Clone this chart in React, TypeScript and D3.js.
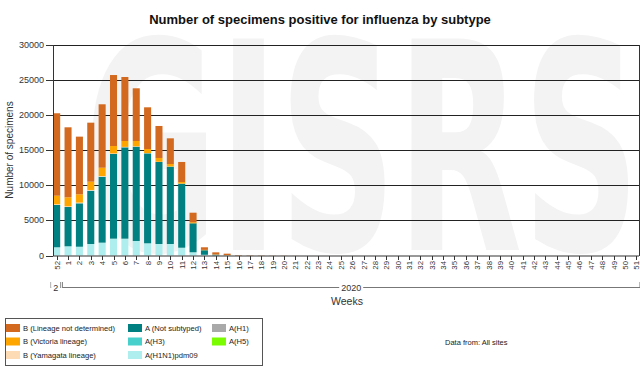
import React from "react";
import * as d3 from "d3";

// weeks shown on the x axis (week 52 of 2019, then weeks 1..51 of 2020)
const weeks = ["52", "1", "2", "3", "4", "5", "6", "7", "8", "9", "10", "11", "12", "13", "14", "15", "16", "17", "18", "19", "20", "21", "22", "23", "24", "25", "26", "27", "28", "29", "30", "31", "32", "33", "34", "35", "36", "37", "38", "39", "40", "41", "42", "43", "44", "45", "46", "47", "48", "49", "50", "51"];

const years = [
  { label: "2", first: "52", last: "52" },
  { label: "2020", first: "1", last: "51" },
];

// series values
const pdm09 = [1170, 1310, 1250, 1640, 1830, 2400, 2400, 2070, 1740, 1640, 1640, 1110, 460, 100, 20, 10, 0, 0, 0, 0, 0, 0, 0, 0, 0, 0, 0, 0, 0, 0, 0, 0, 0, 0, 0, 0, 0, 0, 0, 0, 0, 0, 0, 0, 0, 0, 0, 0, 0, 0, 0, 0];
const h3 = [0, 0, 0, 0, 0, 0, 0, 0, 0, 0, 0, 0, 0, 0, 0, 0, 0, 0, 0, 0, 0, 0, 0, 0, 0, 0, 0, 0, 0, 0, 0, 0, 0, 0, 0, 0, 0, 0, 0, 0, 0, 0, 0, 0, 0, 0, 0, 0, 0, 0, 0, 0];
const h1 = [0, 0, 0, 0, 0, 0, 0, 0, 0, 0, 0, 0, 0, 0, 0, 0, 0, 0, 0, 0, 0, 0, 0, 0, 0, 0, 0, 0, 0, 0, 0, 0, 0, 0, 0, 0, 0, 0, 0, 0, 0, 0, 0, 0, 0, 0, 0, 0, 0, 0, 0, 0];
const h5 = [0, 0, 0, 0, 0, 0, 0, 0, 0, 0, 0, 0, 0, 0, 0, 0, 0, 0, 0, 0, 0, 0, 0, 0, 0, 0, 0, 0, 0, 0, 0, 0, 0, 0, 0, 0, 0, 0, 0, 0, 0, 0, 0, 0, 0, 0, 0, 0, 0, 0, 0, 0];
const notSubtyped = [6030, 5600, 6190, 7600, 9400, 12070, 13020, 13440, 12820, 11690, 11020, 9120, 4130, 650, 100, 20, 0, 0, 0, 0, 0, 0, 0, 0, 0, 0, 0, 0, 0, 0, 0, 0, 0, 0, 0, 0, 0, 0, 0, 0, 0, 0, 0, 0, 0, 0, 0, 0, 0, 0, 0, 0];
const yamagata = [100, 100, 100, 100, 100, 80, 60, 50, 40, 30, 30, 20, 0, 0, 0, 0, 0, 0, 0, 0, 0, 0, 0, 0, 0, 0, 0, 0, 0, 0, 0, 0, 0, 0, 0, 0, 0, 0, 0, 0, 0, 0, 0, 0, 0, 0, 0, 0, 0, 0, 0, 0];
const victoria = [1220, 1280, 1180, 1180, 1180, 1050, 840, 760, 580, 540, 350, 220, 150, 50, 30, 30, 0, 0, 0, 0, 0, 0, 0, 0, 0, 0, 0, 0, 0, 0, 0, 0, 0, 0, 0, 0, 0, 0, 0, 0, 0, 0, 0, 0, 0, 0, 0, 0, 0, 0, 0, 0];
const bNotDetermined = [11750, 9980, 8220, 8410, 9040, 10120, 9120, 7510, 5940, 4560, 3660, 2860, 1360, 370, 300, 200, 60, 40, 30, 20, 20, 10, 0, 0, 0, 0, 0, 0, 0, 0, 0, 0, 0, 0, 0, 0, 0, 0, 0, 0, 0, 0, 0, 0, 0, 0, 0, 0, 0, 0, 0, 0];

const yTicks = [0, 5000, 10000, 15000, 20000, 25000, 30000];

// stacking order, bottom to top
const series = [
  { key: "pdm09", name: "A(H1N1)pdm09", color: "#AFEEEE", values: pdm09 },
  { key: "h3", name: "A(H3)", color: "#48D1CC", values: h3 },
  { key: "h1", name: "A(H1)", color: "#A9A9A9", values: h1 },
  { key: "h5", name: "A(H5)", color: "#7CFC00", values: h5 },
  { key: "ns", name: "A (Not subtyped)", color: "#008080", values: notSubtyped },
  { key: "yam", name: "B (Yamagata lineage)", color: "#FDDCB5", values: yamagata },
  { key: "vic", name: "B (Victoria lineage)", color: "#FFA500", values: victoria },
  { key: "bnd", name: "B (Lineage not determined)", color: "#D2691E", values: bNotDetermined },
];

// legend layout: columns of names
const legendColumns = [
  ["B (Lineage not determined)", "B (Victoria lineage)", "B (Yamagata lineage)"],
  ["A (Not subtyped)", "A(H3)", "A(H1N1)pdm09"],
  ["A(H1)", "A(H5)"],
];

const W = 640;
const H = 370;
const font = "'Liberation Sans', Arial, sans-serif";

export default function App() {
  const x = d3.scaleBand<string>().domain(weeks).range([51, 642]).paddingInner(0.38).paddingOuter(0.19);
  const y = d3.scaleLinear().domain([0, 30000]).range([255.5, 45]);
  const plotLeft = 53;
  const plotRight = 639;

  const rows = weeks.map((w, i) => {
    const r: any = { week: w };
    series.forEach(s => (r[s.key] = s.values[i]));
    return r;
  });
  const stacked = d3.stack().keys(series.map(s => s.key))(rows);
  const colorOf = (k: string) => series.find(s => s.key === k)!.color;
  const step = x.step();
  const outer = 51;

  return (
    <div style={{ position: "absolute", left: 0, top: 0 }}>
      <svg width={W} height={H} style={{ display: "block", background: "#fff" }} fontFamily={font}>
        {/* watermark */}
        <text x={84} y={250} fontSize={290} fontWeight="bold" fill="#f3f3f3" fontFamily="'DejaVu Sans', sans-serif" textLength={556} lengthAdjust="spacingAndGlyphs">
          GISRS
        </text>

        <text x={320} y={24} textAnchor="middle" fontSize={13} fontWeight="bold" fill="#111">
          Number of specimens positive for influenza by subtype
        </text>

        {/* grid + y axis */}
        {yTicks.map(t => (
          <g key={t}>
            {t > 0 && <line x1={plotLeft} x2={plotRight} y1={Math.round(y(t)) + 0.5} y2={Math.round(y(t)) + 0.5} stroke="#222" strokeWidth={1} />}
            <line x1={46} x2={plotLeft} y1={Math.round(y(t)) + 0.5} y2={Math.round(y(t)) + 0.5} stroke="#333" />
            <text x={44} y={y(t) + 3} textAnchor="end" fontSize={9} fill="#333">{t}</text>
          </g>
        ))}
        <line x1={plotRight + 0.5} x2={plotRight + 0.5} y1={45} y2={256} stroke="#333" />
        <text transform={`translate(13,150) rotate(-90)`} textAnchor="middle" fontSize={10} fill="#333">
          Number of specimens
        </text>

        {/* bars */}
        {stacked.map(layer => (
          <g key={layer.key} fill={colorOf(layer.key)}>
            {layer.map((d, i) => {
              const h = y(d[0]) - y(d[1]);
              if (h <= 0) return null;
              return <rect key={i} x={x(weeks[i])} y={y(d[1])} width={x.bandwidth()} height={h} />;
            })}
          </g>
        ))}

        {/* x axis */}
        <line x1={plotLeft} x2={plotRight} y1={256} y2={256} stroke="#333" />
        <line x1={plotLeft + 0.5} x2={plotLeft + 0.5} y1={45} y2={256} stroke="#333" />
        {weeks.map(w => {
          const cx = Math.round(x(w)! + x.bandwidth() / 2) + 0.5;
          return (
            <g key={w}>
              <line x1={cx} x2={cx} y1={256} y2={260} stroke="#333" />
              <text transform={`translate(${Math.min(cx + 2.7, 638.5)},261) rotate(-90)`} textAnchor="end" fontSize={7.8} fill="#333">{w}</text>
            </g>
          );
        })}

        {/* year brackets */}
        {years.map(g => {
          const i0 = weeks.indexOf(g.first);
          const i1 = weeks.indexOf(g.last);
          const x0 = outer + i0 * step;
          const x1 = outer + (i1 + 1) * step - 2;
          const cx = (x0 + x1) / 2;
          const tw = g.label.length * 5 + 4;
          return (
            <g key={g.label} stroke="#777" strokeWidth={1}>
              <line x1={x0} x2={x0} y1={282} y2={288} />
              <line x1={x1} x2={x1} y1={282} y2={288} />
              <line x1={x0} x2={x1} y1={287.5} y2={287.5} />
              <rect x={cx - tw / 2} y={282} width={tw} height={10} fill="#fff" stroke="none" />
              <text x={cx} y={290.5} textAnchor="middle" fontSize={9} fill="#333" stroke="none">{g.label}</text>
            </g>
          );
        })}
        <text x={347} y={305} textAnchor="middle" fontSize={10.5} fill="#333">Weeks</text>

        {/* legend */}
        <rect x={5.5} y={318.5} width={257} height={47} fill="#fff" stroke="#555" />
        {legendColumns.map((col, ci) =>
          col.map((name, ri) => {
            const s = series.find(q => q.name === name)!;
            const lx = [6, 128, 212][ci];
            const ly = 328 + ri * 13.5;
            return (
              <g key={name}>
                <rect x={lx} y={ly - 4} width={14} height={8} fill={s.color} />
                <text x={lx + 17} y={ly + 2.8} fontSize={7.6} fill="#222">{name}</text>
              </g>
            );
          })
        )}
        <text x={445} y={345} fontSize={7.5} fill="#222">Data from: All sites</text>
      </svg>
    </div>
  );
}
